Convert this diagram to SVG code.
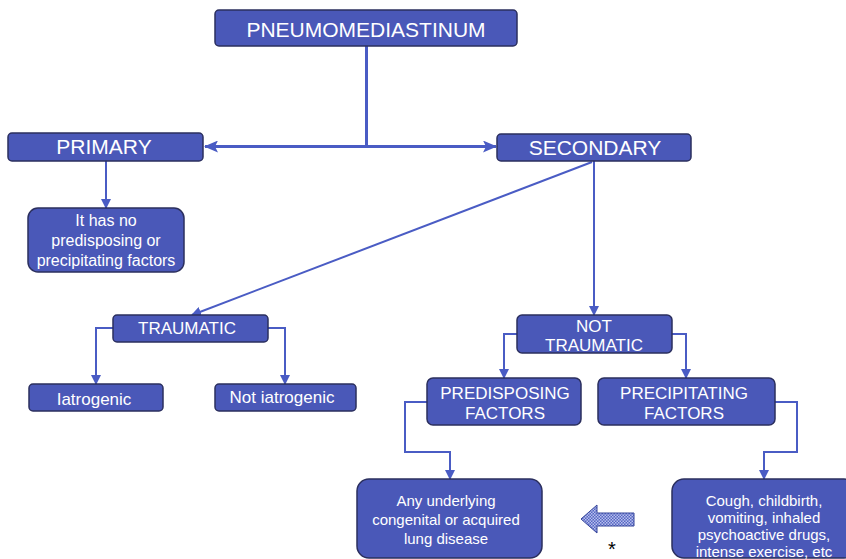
<svg xmlns="http://www.w3.org/2000/svg" width="846" height="559" viewBox="0 0 846 559">
<defs>
<style>
.box{fill:#4a58b8;stroke:#2b2f5e;stroke-width:1.5}
.t{font-family:"Liberation Sans",Arial,sans-serif;fill:#fff;text-anchor:middle}
.ln{fill:none;stroke:#4a5cc4;stroke-width:2}
.lnb{fill:none;stroke:#4a5cc4;stroke-width:3}
</style>
<marker id="ab" markerUnits="userSpaceOnUse" markerWidth="14" markerHeight="12" refX="13" refY="6" orient="auto-start-reverse">
<path d="M0,0 L14,6 L0,12 L3,6 Z" fill="#4a5cc4"/>
</marker>
<marker id="as" markerUnits="userSpaceOnUse" markerWidth="10" markerHeight="10" refX="9" refY="5" orient="auto">
<path d="M0,0 L10,5 L0,10 Z" fill="#4a5cc4"/>
</marker>
<pattern id="dots" width="3" height="3" patternUnits="userSpaceOnUse">
<rect width="3" height="3" fill="#5566c4"/>
<rect width="1.5" height="1.5" fill="#b8c0ec"/>
<rect x="1.5" y="1.5" width="1.5" height="1.5" fill="#b8c0ec"/>
</pattern>
</defs>
<rect width="846" height="559" fill="#fff"/>
<g id="connectors">
<path class="lnb" d="M366.5,46 V146.5"/>
<path class="lnb" d="M205,146.5 H496" marker-start="url(#ab)" marker-end="url(#ab)"/>
<path class="ln" d="M106,161 V208" marker-end="url(#as)"/>
<path class="ln" d="M592,162 L192,315" marker-end="url(#as)"/>
<path class="ln" d="M594,161 V315" marker-end="url(#as)"/>
<path class="ln" d="M113,328 H96 V384" marker-end="url(#as)"/>
<path class="ln" d="M268,328 H285 V384" marker-end="url(#as)"/>
<path class="ln" d="M517,334 H504 V378" marker-end="url(#as)"/>
<path class="ln" d="M672,334 H686 V378" marker-end="url(#as)"/>
<path class="ln" d="M427,402 H405 V452 H450 V479" marker-end="url(#as)"/>
<path class="ln" d="M775,402 H797 V452 H764 V479" marker-end="url(#as)"/>
</g>
<g id="pneumomediastinum">
<rect class="box" x="215" y="10" width="302" height="36" rx="4"/>
<text class="t" x="366" y="37" font-size="21">PNEUMOMEDIASTINUM</text>
</g>
<g id="primary">
<rect class="box" x="8" y="133" width="195" height="28" rx="4"/>
<text class="t" x="104" y="154" font-size="21">PRIMARY</text>
</g>
<g id="secondary">
<rect class="box" x="497" y="134" width="194" height="27" rx="4"/>
<text class="t" x="595" y="155" font-size="21">SECONDARY</text>
</g>
<g id="no-factors">
<rect class="box" x="28" y="208" width="156" height="64" rx="10"/>
<text class="t" x="106" y="226" font-size="16">It has no</text>
<text class="t" x="106" y="246" font-size="16">predisposing or</text>
<text class="t" x="106" y="266" font-size="16">precipitating factors</text>
</g>
<g id="traumatic">
<rect class="box" x="113" y="315" width="155" height="27" rx="4"/>
<text class="t" x="187" y="334" font-size="17">TRAUMATIC</text>
</g>
<g id="not-traumatic">
<rect class="box" x="517" y="315" width="155" height="38" rx="5"/>
<text class="t" x="594" y="332" font-size="17">NOT</text>
<text class="t" x="594" y="351" font-size="17">TRAUMATIC</text>
</g>
<g id="iatrogenic">
<rect class="box" x="29" y="384" width="134" height="27" rx="4"/>
<text class="t" x="94" y="405" font-size="17">Iatrogenic</text>
</g>
<g id="not-iatrogenic">
<rect class="box" x="215" y="384" width="141" height="27" rx="4"/>
<text class="t" x="282" y="403" font-size="17">Not iatrogenic</text>
</g>
<g id="predisposing">
<rect class="box" x="427" y="378" width="154" height="47" rx="6"/>
<text class="t" x="505" y="399" font-size="17">PREDISPOSING</text>
<text class="t" x="505" y="419" font-size="17">FACTORS</text>
</g>
<g id="precipitating">
<rect class="box" x="598" y="378" width="177" height="47" rx="6"/>
<text class="t" x="684" y="399" font-size="17">PRECIPITATING</text>
<text class="t" x="684" y="419" font-size="17">FACTORS</text>
</g>
<g id="lung-disease">
<rect class="box" x="357" y="479" width="185" height="79" rx="12"/>
<text class="t" x="446" y="506" font-size="15">Any underlying</text>
<text class="t" x="446" y="525" font-size="15">congenital or acquired</text>
<text class="t" x="446" y="544" font-size="15">lung disease</text>
</g>
<g id="precipitating-examples">
<rect class="box" x="672" y="479" width="184" height="79" rx="12"/>
<text class="t" x="764" y="506" font-size="15">Cough, childbirth,</text>
<text class="t" x="764" y="523" font-size="15">vomiting, inhaled</text>
<text class="t" x="764" y="540" font-size="15">psychoactive drugs,</text>
<text class="t" x="764" y="557" font-size="15">intense exercise, etc</text>
</g>
<g id="block-arrow">
<path d="M581,519 L597,505 L597,513 L634,513 L634,526 L597,526 L597,533 Z" fill="url(#dots)" stroke="#34449a" stroke-width="1"/>
<text x="612" y="556" font-family="Liberation Sans,Arial,sans-serif" font-size="20" fill="#000" text-anchor="middle">*</text>
</g>
</svg>
